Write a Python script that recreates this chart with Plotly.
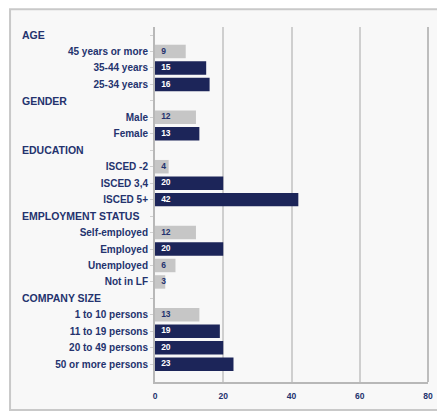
import plotly.graph_objects as go

# Rows in display order (top to bottom); headers have no value
rows = ["AGE", "45 years or more", "35-44 years", "25-34 years",
        "GENDER", "Male", "Female",
        "EDUCATION", "ISCED -2", "ISCED 3,4", "ISCED 5+",
        "EMPLOYMENT STATUS", "Self-employed", "Employed", "Unemployed", "Not in LF",
        "COMPANY SIZE", "1 to 10 persons", "11 to 19 persons", "20 to 49 persons", "50 or more persons"]
headers = ["AGE", "GENDER", "EDUCATION", "EMPLOYMENT STATUS", "COMPANY SIZE"]

gray_items = ["45 years or more", "Male", "ISCED -2", "Self-employed", "Unemployed", "Not in LF", "1 to 10 persons"]
gray_values = [9, 12, 4, 12, 6, 3, 13]

dark_items = ["35-44 years", "25-34 years", "Female", "ISCED 3,4", "ISCED 5+", "Employed",
              "11 to 19 persons", "20 to 49 persons", "50 or more persons"]
dark_values = [15, 16, 13, 20, 42, 20, 19, 20, 23]

x_ticks = [0, 20, 40, 60, 80]

NAVY = "#1c2559"
GRAY = "#c6c6c6"
LABEL = "#24336e"
FONT = "Liberation Sans, Arial, sans-serif"

fig = go.Figure()
fig.add_trace(go.Bar(y=gray_items, x=gray_values, orientation="h",
                     marker=dict(color=GRAY, line=dict(width=0)), hoverinfo="skip"))
fig.add_trace(go.Bar(y=dark_items, x=dark_values, orientation="h",
                     marker=dict(color=NAVY, line=dict(width=0)), hoverinfo="skip"))
# value labels at bar base
fig.add_trace(go.Scatter(y=gray_items, x=[1.8] * len(gray_items), mode="text",
                         text=[str(v) for v in gray_values], textposition="middle right",
                         textfont=dict(color=LABEL, size=8.5, family=FONT, weight="bold"),
                         hoverinfo="skip"))
fig.add_trace(go.Scatter(y=dark_items, x=[1.8] * len(dark_items), mode="text",
                         text=[str(v) for v in dark_values], textposition="middle right",
                         textfont=dict(color="white", size=8.5, family=FONT, weight="bold"),
                         hoverinfo="skip"))

ticktext = ["" if r in headers else r for r in rows]

annotations = [dict(xref="paper", yref="y", x=-0.494, y=h, text=h, showarrow=False,
                    xanchor="left", yanchor="middle",
                    font=dict(family=FONT, size=10.5, color=LABEL, weight="bold"))
               for h in headers]

# page body adds 8px margin; figure sized so that page totals 445x412
fig.update_layout(
    width=437, height=404,
    margin=dict(l=147, r=17, t=19, b=30),
    paper_bgcolor="white", plot_bgcolor="white",
    showlegend=False, barmode="overlay", bargap=0.18,
    font=dict(family=FONT, color=LABEL, size=10),
    xaxis=dict(range=[0, 80], tickvals=x_ticks, showgrid=True, gridcolor="#cfcfcf", gridwidth=1.5,
               zeroline=False, showline=True, linecolor="#b8b8b8", linewidth=2,
               tickfont=dict(size=8.5, family=FONT, color=LABEL, weight="bold"),
               ticks="outside", ticklen=5, tickcolor="rgba(0,0,0,0)",
               fixedrange=True, mirror=False),
    yaxis=dict(categoryorder="array", categoryarray=rows, tickvals=rows, ticktext=ticktext,
               autorange="reversed", showline=True, linecolor="#b8b8b8", linewidth=2,
               ticks="outside", ticklen=3, tickcolor="#d0d0d0",
               tickfont=dict(size=10, family=FONT, color=LABEL, weight="bold"), showgrid=False),
    annotations=annotations,
    shapes=[dict(type="rect", xref="paper", yref="paper", x0=-0.531, x1=1.1, y0=-0.079, y1=1.05,
                 fillcolor="#f8f8f8", line=dict(color="#c9c9c9", width=2), layer="below"),
            dict(type="line", xref="paper", yref="paper", x0=1, x1=1, y0=0, y1=1,
                 line=dict(color="#bdbdbd", width=2))],
)

fig.write_html("out.html")
